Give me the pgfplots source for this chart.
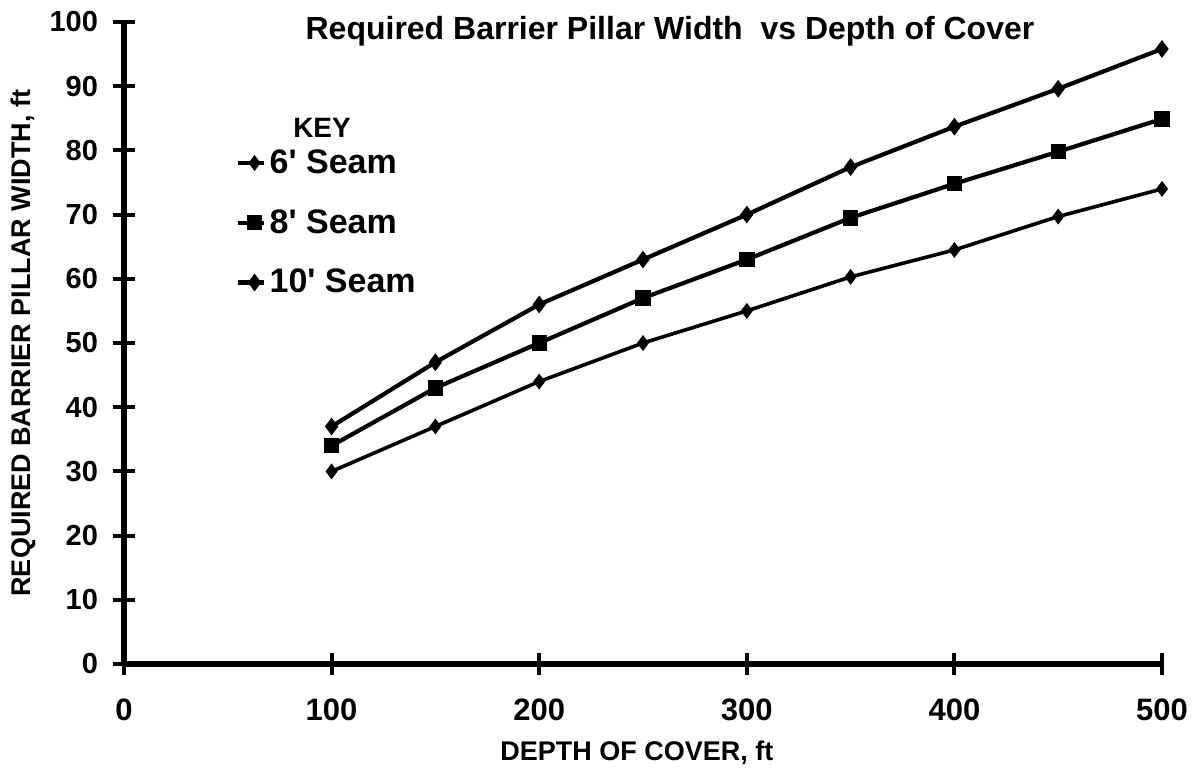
\documentclass[border=0pt]{standalone}
\usepackage{pgfplots}
\pgfplotsset{compat=1.18}
\usepackage{fontspec}
\setmainfont{Liberation Sans}

% required barrier pillar width, ft, against depth of cover, ft
\pgfplotstableread{
depth six eight ten
100 30.0 34.0 37.0
150 37.0 43.0 47.0
200 44.0 50.0 56.0
250 50.0 57.0 63.0
300 55.0 63.0 70.0
350 60.3 69.5 77.4
400 64.5 74.8 83.7
450 69.7 79.8 89.6
500 74.0 84.9 95.8
}\pillars

\begin{document}
\begin{tikzpicture}
\useasboundingbox (-62pt,-54pt) rectangle (534pt,332pt);
\begin{axis}[
    at={(0,0)}, anchor=south west,
    scale only axis,
    width=519pt, height=321pt,
    xmin=0, xmax=500, ymin=0, ymax=100,
    xtick={0,100,...,500},
    ytick={0,10,...,100},
    axis x line=bottom, axis y line=left,
    axis line style={line width=3pt, -},
    tick style={line width=2pt, black},
    tick align=center,
    major tick length=11pt,
    clip=false,
    /pgf/number format/assume math mode=true,
    xticklabel style={font=\bfseries\fontsize{15.5}{17}\selectfont, yshift=-8.5pt},
    yticklabel style={font=\bfseries\fontsize{14.5}{16}\selectfont, xshift=-4pt},
    every axis x label/.style={at={(axis description cs:0.494,-0.1386)}, anchor=center},
    every axis y label/.style={at={(axis description cs:-0.0973,0.5)}, rotate=90, anchor=center},
    label style={font=\bfseries\fontsize{13.5}{15}\selectfont},
    xlabel={DEPTH OF COVER, ft},
    ylabel={REQUIRED BARRIER PILLAR WIDTH, ft},
    legend style={draw=none, fill=none, at={(rel axis cs:0.107,0.808)}, anchor=north west,
        font=\bfseries\fontsize{17}{19}\selectfont, row sep=12.5pt, inner sep=0pt},
    legend cell align=left,
    legend image code/.code={
        \draw[mark repeat=2, mark phase=2, #1] plot coordinates {(0pt,0pt) (8.5pt,0pt) (13pt,0pt)};
    },
]
\addplot[black, line width=1.8pt, mark=diamond*, mark size=2.5pt] table[x=depth, y=six] {\pillars};
\addlegendentry{6\textquotesingle\ Seam}
\addplot[black, line width=2.1pt, mark=square*, mark size=2.8pt] table[x=depth, y=eight] {\pillars};
\addlegendentry{8\textquotesingle\ Seam}
\addplot[black, line width=2.1pt, mark=diamond*, mark size=2.7pt] table[x=depth, y=ten] {\pillars};
\addlegendentry{10\textquotesingle\ Seam}

\node[font=\bfseries\fontsize{16}{18}\selectfont] at (axis cs:263,98.6)
    {Required Barrier Pillar Width\ \ vs Depth of Cover};
\node[font=\bfseries\fontsize{14}{16}\selectfont] at (axis cs:95.4,83.5) {KEY};
\end{axis}
\end{tikzpicture}
\end{document}
